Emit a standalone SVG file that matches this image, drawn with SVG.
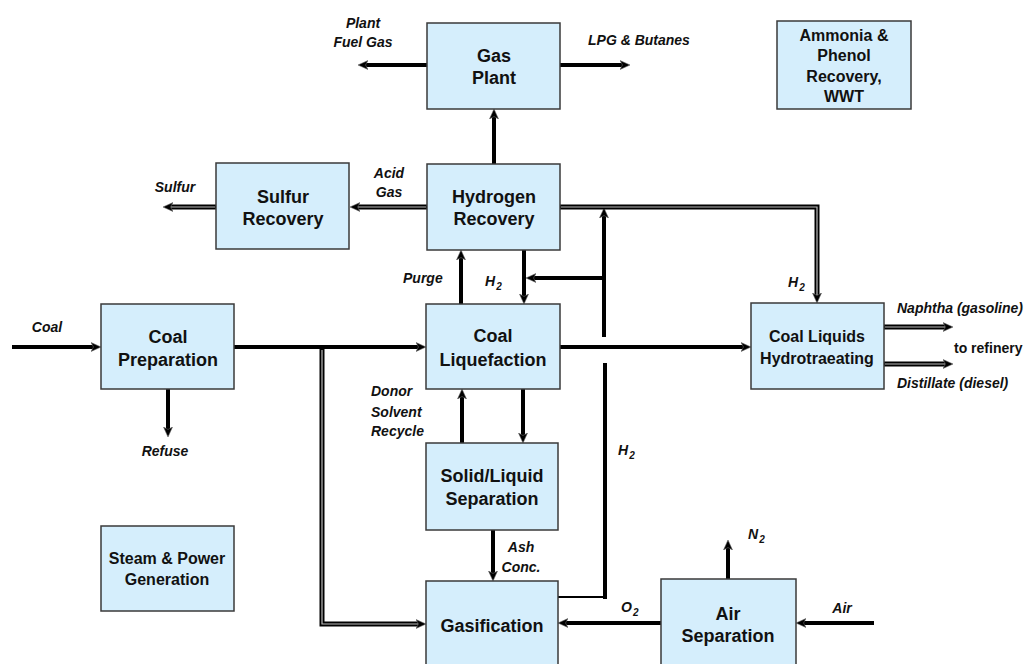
<svg xmlns="http://www.w3.org/2000/svg" width="1028" height="664" viewBox="0 0 1028 664">
<style>
.node rect{fill:#d5eefc;stroke:#3a3a3a;stroke-width:1.5}
.nl{font-family:"Liberation Sans",Arial,sans-serif;font-weight:bold;font-size:18px;text-anchor:middle;fill:#111}
.ns{font-size:16px}
.lbl{font-family:"Liberation Sans",Arial,sans-serif;font-weight:bold;font-style:italic;font-size:14px;fill:#111}
.up{font-style:normal}
.mid{text-anchor:middle}
.sub{font-size:10px}
.c{fill:none;stroke:#000;stroke-width:4}
.dbl{fill:none;stroke:#000;stroke-width:5}
.dbli{fill:none;stroke:#bbb;stroke-width:1.2}
.thin{fill:none;stroke:#000;stroke-width:2}
</style>
<defs>
<marker id="ah" viewBox="0 0 10 10" refX="3" refY="5" markerWidth="10" markerHeight="10" markerUnits="userSpaceOnUse" orient="auto">
<path d="M0,0.5 L10,5 L0,9.5 L2.5,5 z" fill="#000" stroke="#666" stroke-width="0.6"/>
</marker>
</defs>
<rect width="1028" height="664" fill="#fff"/>
<g id="connectors">
<path class="c" d="M12,347 H94" marker-end="url(#ah)"/>
<path class="c" d="M234,347 H419" marker-end="url(#ah)"/>
<path class="dbl" d="M322,347 V624 H419" marker-end="url(#ah)"/>
<path class="dbli" d="M322,350 V624 H418"/>
<path class="c" d="M168,389 V430" marker-end="url(#ah)"/>
<path class="c" d="M560,347 H744" marker-end="url(#ah)"/>
<path class="c" d="M461,304 V257" marker-end="url(#ah)"/>
<path class="c" d="M524,250 V297" marker-end="url(#ah)"/>
<path class="c" d="M604,278 H533" marker-end="url(#ah)"/>
<path class="c" d="M604,337 V215" marker-end="url(#ah)"/>
<path class="dbl" d="M560,207 H817 V296" marker-end="url(#ah)"/>
<path class="dbli" d="M561,207 H817 V295"/>
<path class="c" d="M494,164 V116" marker-end="url(#ah)"/>
<path class="c" d="M427,65 H365" marker-end="url(#ah)"/>
<path class="c" d="M560,65 H623" marker-end="url(#ah)"/>
<path class="dbl" d="M427,207 H357" marker-end="url(#ah)"/>
<path class="dbli" d="M426,207 H358"/>
<path class="dbl" d="M216,207 H170" marker-end="url(#ah)"/>
<path class="dbli" d="M215,207 H171"/>
<path class="c" d="M523,389 V436" marker-end="url(#ah)"/>
<path class="c" d="M462,443 V396" marker-end="url(#ah)"/>
<path class="c" d="M493,530 V574" marker-end="url(#ah)"/>
<path class="thin" d="M558,597 H605"/>
<path class="c" d="M605,599 V363"/>
<path class="c" d="M661,623 H565" marker-end="url(#ah)"/>
<path class="c" d="M728,579 V547" marker-end="url(#ah)"/>
<path class="c" d="M874,623 H803" marker-end="url(#ah)"/>
<path class="dbl" d="M884,327 H946" marker-end="url(#ah)"/>
<path class="dbli" d="M885,327 H945"/>
<path class="dbl" d="M884,364 H946" marker-end="url(#ah)"/>
<path class="dbli" d="M885,364 H945"/>
</g>
<g id="labels">
<text class="lbl mid" x="363" y="28">Plant</text>
<text class="lbl mid" x="363" y="47">Fuel Gas</text>
<text class="lbl" x="588" y="45">LPG &amp; Butanes</text>
<text class="lbl mid" x="389" y="178">Acid</text>
<text class="lbl mid" x="389" y="197">Gas</text>
<text class="lbl mid" x="175" y="192">Sulfur</text>
<text class="lbl mid" x="47" y="332">Coal</text>
<text class="lbl mid" x="165" y="456">Refuse</text>
<text class="lbl" x="403" y="283">Purge</text>
<text class="lbl" x="485" y="286">H<tspan class="sub" dx="1" dy="4">2</tspan></text>
<text class="lbl" x="788" y="287">H<tspan class="sub" dx="1" dy="4">2</tspan></text>
<text class="lbl" x="371" y="396">Donor</text>
<text class="lbl" x="371" y="417">Solvent</text>
<text class="lbl" x="371" y="436">Recycle</text>
<text class="lbl" x="618" y="455">H<tspan class="sub" dx="1" dy="4">2</tspan></text>
<text class="lbl mid" x="521" y="552">Ash</text>
<text class="lbl mid" x="521" y="572">Conc.</text>
<text class="lbl" x="621" y="612">O<tspan class="sub" dx="1" dy="4">2</tspan></text>
<text class="lbl" x="748" y="539">N<tspan class="sub" dx="1" dy="4">2</tspan></text>
<text class="lbl mid" x="842" y="613">Air</text>
<text class="lbl" x="897" y="313">Naphtha (gasoline)</text>
<text class="lbl up" x="954" y="353">to refinery</text>
<text class="lbl" x="897" y="388">Distillate (diesel)</text>
</g>
<g id="gas-plant" class="node"><rect x="427" y="23" width="133" height="86"/><text class="nl" x="494" y="62">Gas</text><text class="nl" x="494" y="84">Plant</text></g>
<g id="ammonia" class="node"><rect x="777" y="21" width="134" height="88"/><text class="nl ns" x="844" y="41">Ammonia &amp;</text><text class="nl ns" x="844" y="61">Phenol</text><text class="nl ns" x="844" y="82">Recovery,</text><text class="nl ns" x="844" y="102">WWT</text></g>
<g id="sulfur-recovery" class="node"><rect x="216" y="163" width="133" height="86"/><text class="nl" x="283" y="203">Sulfur</text><text class="nl" x="283" y="225">Recovery</text></g>
<g id="hydrogen-recovery" class="node"><rect x="427" y="164" width="133" height="86"/><text class="nl" x="494" y="203">Hydrogen</text><text class="nl" x="494" y="225">Recovery</text></g>
<g id="coal-preparation" class="node"><rect x="101" y="304" width="133" height="85"/><text class="nl" x="168" y="343">Coal</text><text class="nl" x="168" y="366">Preparation</text></g>
<g id="coal-liquefaction" class="node"><rect x="426" y="304" width="134" height="85"/><text class="nl" x="493" y="342">Coal</text><text class="nl" x="493" y="366">Liquefaction</text></g>
<g id="hydrotreating" class="node"><rect x="751" y="303" width="133" height="86"/><text class="nl ns" x="817" y="342">Coal Liquids</text><text class="nl ns" x="817" y="364">Hydrotraeating</text></g>
<g id="solid-liquid" class="node"><rect x="426" y="443" width="132" height="87"/><text class="nl" x="492" y="482">Solid/Liquid</text><text class="nl" x="492" y="505">Separation</text></g>
<g id="steam-power" class="node"><rect x="101" y="526" width="133" height="85"/><text class="nl ns" x="167" y="564">Steam &amp; Power</text><text class="nl ns" x="167" y="585">Generation</text></g>
<g id="gasification" class="node"><rect x="426" y="581" width="132" height="90"/><text class="nl" x="492" y="632">Gasification</text></g>
<g id="air-separation" class="node"><rect x="661" y="579" width="135" height="90"/><text class="nl" x="728" y="620">Air</text><text class="nl" x="728" y="642">Separation</text></g>
</svg>
